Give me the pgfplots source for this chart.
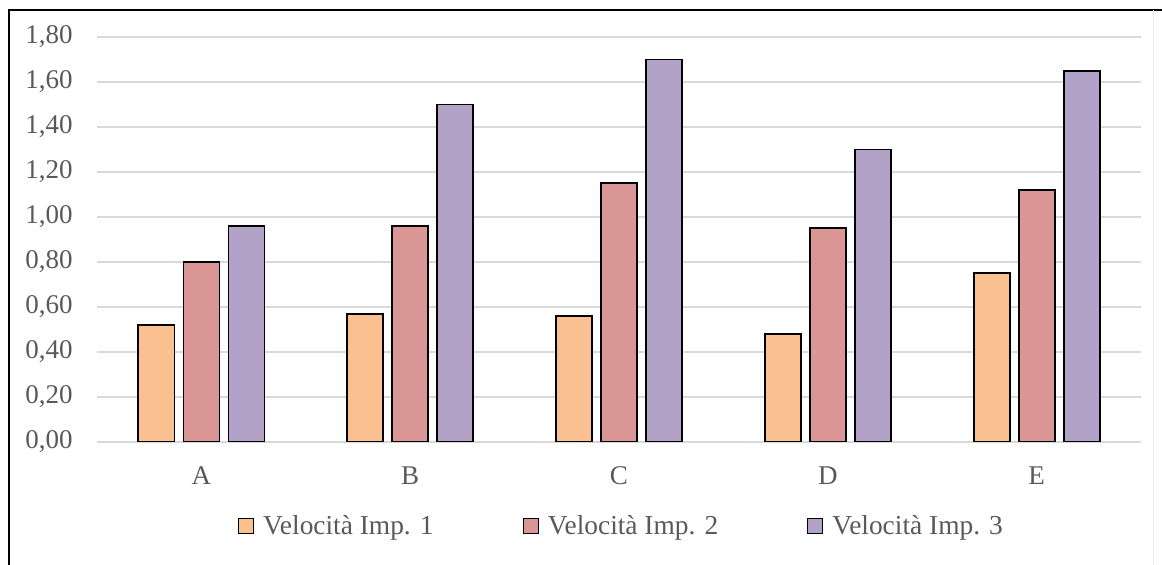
\documentclass[border=0pt]{standalone}
\usepackage{fontspec}
\setmainfont{Liberation Serif}
\usepackage{pgfplots}
\pgfplotsset{compat=1.18}
\definecolor{c1}{HTML}{FAC090}
\definecolor{c2}{HTML}{D99694}
\definecolor{c3}{HTML}{B3A2C7}
\definecolor{txt}{HTML}{595959}
\definecolor{grd}{HTML}{D9D9D9}
\begin{document}
\begin{tikzpicture}
\path[use as bounding box] (0,0) rectangle (581pt,282.5pt);
\draw[line width=1pt] (4.5pt,0) -- (4.5pt,277.5pt) -- (581pt,277.5pt);
\draw[line width=0.5pt, black!8] (576.5pt,0) -- (576.5pt,277.5pt);
\begin{axis}[
  at={(48.5pt,61.5pt)}, anchor=south west,
  scale only axis, width=522pt, height=202.5pt,
  xmin=-0.5, xmax=4.5, ymin=0, ymax=1.8,
  xtick={0,1,2,3,4}, xticklabels={A,B,C,D,E},
  ytick={0,0.2,0.4,0.6,0.8,1,1.2,1.4,1.6,1.8},
  ymajorgrids, grid style={grd, line width=0.75pt},
  axis line style={draw=none}, major tick length=0pt,
  /pgf/number format/assume math mode=true,
  yticklabel style={/pgf/number format/fixed, /pgf/number format/fixed zerofill,
    /pgf/number format/precision=2, /pgf/number format/use comma,
    anchor=east, inner sep=0pt, xshift=-12pt},
  ticklabel style={font=\fontsize{13.5pt}{16pt}\selectfont, text=txt},
  xticklabel style={anchor=north, inner sep=0pt, yshift=-12pt},
  ybar=4.5pt, bar width=18pt,
  every axis plot/.append style={draw=black, line width=0.9pt},
  legend columns=3,
  legend image code/.code={\draw[#1, line width=0.6pt] (0pt,-3.75pt) rectangle (7.5pt,3.75pt);},
  legend style={draw=none, fill=none, inner sep=0pt, outer sep=0pt,
    at={(0,0)}, anchor=west, xshift=70.5pt, yshift=-42pt,
    font=\fontsize{13.7pt}{16pt}\selectfont, text=txt,
    nodes={inner sep=0pt},
    /tikz/every odd column/.append style={column sep=4.5pt},
    /tikz/every even column/.append style={column sep=44.5pt}},
]
\addplot[fill=c1] coordinates {(0,0.52) (1,0.57) (2,0.56) (3,0.48) (4,0.75)};
\addplot[fill=c2] coordinates {(0,0.80) (1,0.96) (2,1.15) (3,0.95) (4,1.12)};
\addplot[fill=c3] coordinates {(0,0.96) (1,1.50) (2,1.70) (3,1.30) (4,1.65)};
\legend{Velocità Imp. 1, Velocità Imp. 2, Velocità Imp. 3}
\end{axis}
\end{tikzpicture}
\end{document}
